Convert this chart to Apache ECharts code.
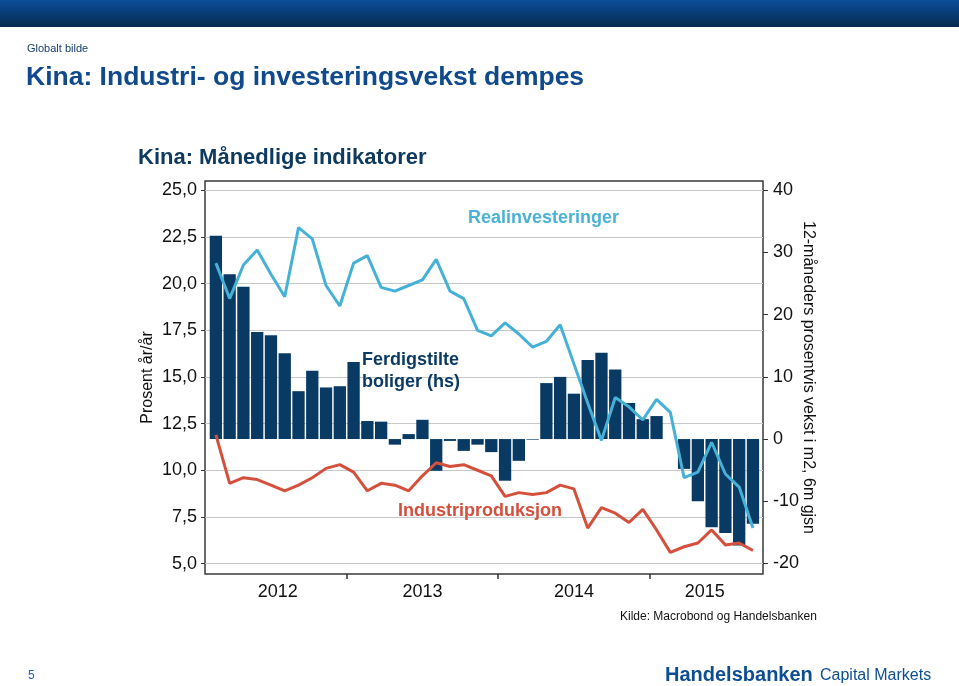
<!DOCTYPE html>
<html><head><meta charset="utf-8">
<script src="https://cdn.jsdelivr.net/npm/echarts@6/dist/echarts.min.js"></script>
<style>html,body{margin:0;padding:0;background:#fff}#c{width:959px;height:686px}</style>
</head><body><div id="c"></div>
<script>
// Monthly categories (China: January merged into Jan–Feb, so no January points)
const categories = [
  '2012-03','2012-04','2012-05','2012-06','2012-07','2012-08','2012-09','2012-10','2012-11','2012-12',
  '2013-02','2013-03','2013-04','2013-05','2013-06','2013-07','2013-08','2013-09','2013-10','2013-11','2013-12',
  '2014-02','2014-03','2014-04','2014-05','2014-06','2014-07','2014-08','2014-09','2014-10','2014-11','2014-12',
  '2015-02','2015-03','2015-04','2015-05','2015-06','2015-07','2015-08','2015-09'
];
// Ferdigstilte boliger (hs), 12-mnd vekst i m2, 6m gjsn
const ferdigstilteBoliger = [
  32.7, 26.5, 24.5, 17.2, 16.7, 13.8, 7.7, 11.0, 8.3, 8.5,
  12.4, 2.9, 2.8, -0.9, 0.8, 3.1, -5.1, -0.3, -1.9, -0.9, -2.1,
  -6.7, -3.5, -0.1, 9.0, 10.0, 7.3, 12.7, 13.9, 11.2, 5.8, 3.2,
  3.7, 0, -4.8, -10.0, -14.2, -15.1, -17.1, -13.6
];
// Realinvesteringer, prosent år/år
const realinvesteringer = [
  21.1, 19.2, 21.0, 21.8, 20.5, 19.3, 23.0, 22.4, 19.9, 18.8,
  21.1, 21.5, 19.8, 19.6, 19.9, 20.2, 21.3, 19.6, 19.2, 17.5, 17.2,
  17.9, 17.3, 16.6, 16.9, 17.8, 15.7, 13.6, 11.6, 13.9, 13.4, 12.7,
  13.8, 13.1, 9.6, 9.9, 11.5, 9.8, 9.1, 6.9
];
// Industriproduksjon, prosent år/år
const industriproduksjon = [
  11.9, 9.3, 9.6, 9.5, 9.2, 8.9, 9.2, 9.6, 10.1, 10.3,
  9.9, 8.9, 9.3, 9.2, 8.9, 9.7, 10.4, 10.2, 10.3, 10.0, 9.7,
  8.6, 8.8, 8.7, 8.8, 9.2, 9.0, 6.9, 8.0, 7.7, 7.2, 7.9,
  6.8, 5.6, 5.9, 6.1, 6.8, 6.0, 6.1, 5.7
];
const leftTickLabels = ['5,0','7,5','10,0','12,5','15,0','17,5','20,0','22,5','25,0'];
const rightTickLabels = ['-20','-10','0','10','20','30','40'];

const FONT = '"Liberation Sans", Arial, Helvetica, sans-serif';
const leftVals = leftTickLabels.map(s => parseFloat(s.replace(',', '.')));
const rightVals = rightTickLabels.map(s => parseFloat(s));
function nearestLabel(vals, labels, v) {
  let bi = 0;
  vals.forEach((x, i) => { if (Math.abs(x - v) < Math.abs(vals[bi] - v)) bi = i; });
  return labels[bi];
}
// year boundaries and centres derived from categories
const years = [];
categories.forEach((c, i) => {
  const y = c.slice(0, 4);
  let e = years.find(o => o.year === y);
  if (!e) { e = {year: y, first: i, last: i}; years.push(e); } else e.last = i;
});
const yearBoundaries = years.slice(1).map(o => o.first - 0.5);
const yearCenters = years.map(o => (o.first + o.last) / 2);
function yearAt(v) {
  let bi = 0;
  yearCenters.forEach((x, i) => { if (Math.abs(x - v) < Math.abs(yearCenters[bi] - v)) bi = i; });
  return years[bi].year;
}

const chart = echarts.init(document.getElementById('c'), null, {renderer: 'canvas'});
chart.setOption({
  animation: false,
  backgroundColor: '#ffffff',
  textStyle: {fontFamily: FONT},
  grid: {left: 205, right: 196, top: 181, bottom: 112, show: true,
         borderColor: '#3a3a3a', borderWidth: 1.5, backgroundColor: 'rgba(0,0,0,0)'},
  xAxis: {
    type: 'value', min: -0.79, max: 39.73, position: 'bottom',
    axisLine: {show: false, onZero: false}, splitLine: {show: false},
    axisTick: {show: true, inside: false, customValues: yearBoundaries, length: 5, lineStyle: {color: '#333', width: 1.5}},
    axisLabel: {customValues: yearCenters, formatter: v => yearAt(v), fontSize: 18, color: '#111', margin: 9, fontFamily: FONT}
  },
  yAxis: [{
    type: 'value', position: 'left', min: 4.44, max: 25.5,
    axisLine: {show: false, onZero: false},
    axisTick: {show: true, inside: false, customValues: leftVals, length: 4, lineStyle: {color: '#333'}},
    axisLabel: {customValues: leftVals, formatter: v => nearestLabel(leftVals, leftTickLabels, v), fontSize: 18, color: '#111', margin: 8, fontFamily: FONT},
    splitLine: {show: true, lineStyle: {color: '#c8c8c8', width: 1}},
    name: 'Prosent år/år', nameLocation: 'middle', nameGap: 49, nameRotate: 90, nameMoveOverlap: false,
    nameTextStyle: {fontSize: 16, color: '#111', fontFamily: FONT}
  }, {
    type: 'value', position: 'right', min: -21.7, max: 41.5,
    axisLine: {show: false, onZero: false},
    axisTick: {show: true, inside: false, customValues: rightVals, length: 5, lineStyle: {color: '#333'}},
    axisLabel: {customValues: rightVals, formatter: v => nearestLabel(rightVals, rightTickLabels, v), fontSize: 18, color: '#111', margin: 10, fontFamily: FONT},
    splitLine: {show: false},
    name: '12-måneders prosentvis vekst i m2, 6m gjsn', nameLocation: 'middle', nameGap: 37, nameRotate: -90, nameMoveOverlap: false,
    nameTextStyle: {fontSize: 16, color: '#111', fontFamily: FONT}
  }],
  series: [{
    type: 'bar', name: 'Ferdigstilte boliger (hs)', yAxisIndex: 1,
    data: ferdigstilteBoliger.map((v, i) => [i, v]),
    barWidth: 12.3, itemStyle: {color: '#083a64'}, z: 1
  }, {
    type: 'line', name: 'Realinvesteringer', yAxisIndex: 0,
    data: realinvesteringer.map((v, i) => [i, v]),
    symbol: 'none', lineStyle: {width: 3, color: '#46b1d6'}, z: 3
  }, {
    type: 'line', name: 'Industriproduksjon', yAxisIndex: 0,
    data: industriproduksjon.map((v, i) => [i, v]),
    symbol: 'none', lineStyle: {width: 3, color: '#d5503c'}, z: 3
  }],
  graphic: [
    {type: 'rect', shape: {x: 0, y: 0, width: 959, height: 27},
     style: {fill: new echarts.graphic.LinearGradient(0, 0, 0, 1, [{offset: 0, color: '#0c4f9c'}, {offset: 1, color: '#062a4e'}])}},
    {type: 'text', x: 27, y: 49, style: {text: 'Globalt bilde', font: '11px ' + FONT, fill: '#173e72', verticalAlign: 'middle'}},
    {type: 'text', x: 26, y: 78, style: {text: 'Kina: Industri- og investeringsvekst dempes', font: 'bold 26.5px ' + FONT, fill: '#114a8c', verticalAlign: 'middle'}},
    {type: 'text', x: 138, y: 158, style: {text: 'Kina: Månedlige indikatorer', font: 'bold 22px ' + FONT, fill: '#0f3a5f', verticalAlign: 'middle'}},
    {type: 'text', x: 468, y: 218, style: {text: 'Realinvesteringer', font: 'bold 18px ' + FONT, fill: '#4ab2d6', verticalAlign: 'middle'}, z: 10},
    {type: 'text', x: 362, y: 349, style: {text: 'Ferdigstilte\nboliger (hs)', font: 'bold 18px ' + FONT, lineHeight: 22, fill: '#0b3a63', verticalAlign: 'top'}, z: 10},
    {type: 'text', x: 398, y: 511, style: {text: 'Industriproduksjon', font: 'bold 18px ' + FONT, fill: '#d4503d', verticalAlign: 'middle'}, z: 10},
    {type: 'text', x: 620, y: 617, style: {text: 'Kilde: Macrobond og Handelsbanken', font: '12px ' + FONT, fill: '#111', verticalAlign: 'middle'}},
    {type: 'text', x: 28, y: 676, style: {text: '5', font: '12px ' + FONT, fill: '#1f5fa8', verticalAlign: 'middle'}},
    {type: 'text', x: 665, y: 675, style: {text: 'Handelsbanken', font: 'bold 20px ' + FONT, fill: '#0d4e93', verticalAlign: 'middle'}},
    {type: 'text', x: 820, y: 676, style: {text: 'Capital Markets', font: '16px ' + FONT, fill: '#0d4e93', verticalAlign: 'middle'}}
  ]
});
</script></body></html>
